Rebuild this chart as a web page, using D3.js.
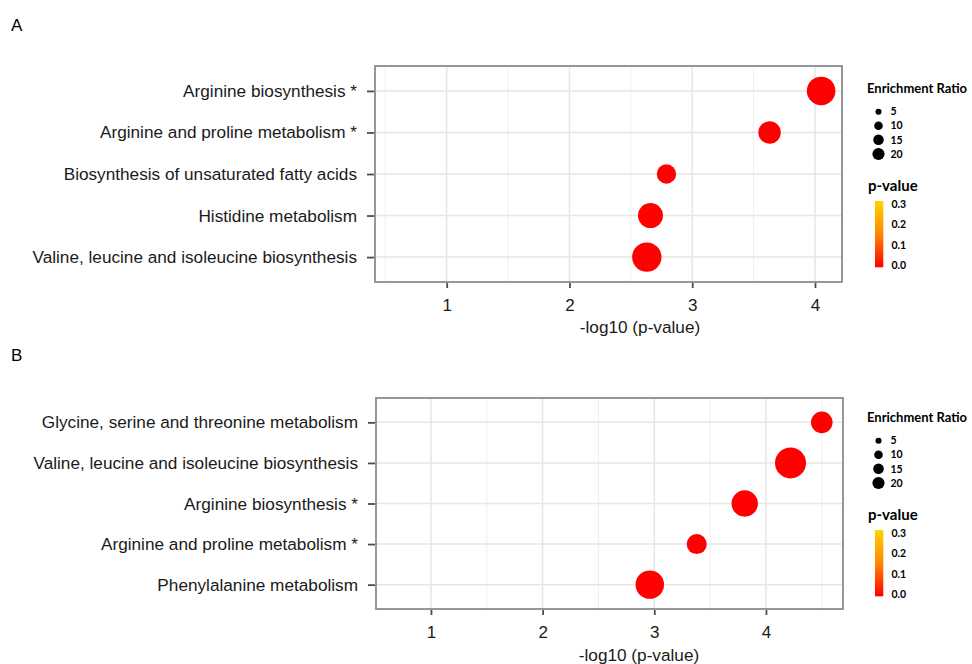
<!DOCTYPE html>
<html>
<head>
<meta charset="utf-8">
<script src="https://cdn.jsdelivr.net/npm/d3@7"></script>
<style>
  body { margin: 0; background: #fff; }
  text { font-family: "Liberation Sans", Arial, sans-serif; }
  .leg text { font-family: Lato, "Open Sans", sans-serif; font-weight: 700; }
</style>
</head>
<body>
<div id="container"></div>
<script>
/* DATA */
const pathwaysA = [
  "Arginine biosynthesis *",
  "Arginine and proline metabolism *",
  "Biosynthesis of unsaturated fatty acids",
  "Histidine metabolism",
  "Valine, leucine and isoleucine biosynthesis"
]
const logPA = [4.05, 3.63, 2.79, 2.66, 2.63]
const ratioA = [18.9, 11.6, 8.7, 14.5, 20]

const pathwaysB = [
  "Glycine, serine and threonine metabolism",
  "Valine, leucine and isoleucine biosynthesis",
  "Arginine biosynthesis *",
  "Arginine and proline metabolism *",
  "Phenylalanine metabolism"
]
const logPB = [4.50, 4.22, 3.81, 3.38, 2.96]
const ratioB = [10.8, 22.2, 16.1, 9.3, 18.7]

const xTicks = [1, 2, 3, 4]
const sizeLegend = [5, 10, 15, 20]
const pLegend = [0.0, 0.1, 0.2, 0.3]

/* CONSTANTS */
const width = 972, height = 664

const svg = d3.select("#container")
  .append("svg")
  .attr("width", width)
  .attr("height", height)

// colour by p-value, same for both panels
const colorScale = d3.scaleLinear()
  .domain([0, 0.15, 0.3])
  .range(["#ff0000", "#ff8800", "#ffd400"])

const sizeScale = d3.scaleSqrt().domain([0, 20]).range([0, 14.7])
const legSize = d3.scaleSqrt().domain([0, 20]).range([0, 6.1])

function drawPanel(cfg) {
  const g = svg.append("g")

  // panel letter
  g.append("text")
    .attr("x", 11).attr("y", cfg.letterY)
    .attr("font-size", 17)
    .text(cfg.letter)

  const xScale = d3.scaleLinear()
    .domain(cfg.xDomain)
    .range([cfg.left, cfg.right])

  const yScale = d3.scalePoint()
    .domain(cfg.pathways)
    .range([cfg.top, cfg.bottom])
    .padding(0.6)

  // minor grid
  const minor = d3.range(0.5, cfg.xDomain[1], 1).filter(v => v > cfg.xDomain[0])
  g.selectAll(".minor")
    .data(minor)
    .join("line")
    .attr("x1", d => xScale(d)).attr("x2", d => xScale(d))
    .attr("y1", cfg.top).attr("y2", cfg.bottom)
    .attr("stroke", "#efefef").attr("stroke-width", 1)

  // major grid
  g.selectAll(".vmajor")
    .data(xTicks)
    .join("line")
    .attr("x1", d => xScale(d)).attr("x2", d => xScale(d))
    .attr("y1", cfg.top).attr("y2", cfg.bottom)
    .attr("stroke", "#e6e6e6").attr("stroke-width", 1.5)

  g.selectAll(".hmajor")
    .data(cfg.pathways)
    .join("line")
    .attr("x1", cfg.left).attr("x2", cfg.right)
    .attr("y1", d => yScale(d)).attr("y2", d => yScale(d))
    .attr("stroke", "#e6e6e6").attr("stroke-width", 1.5)

  // panel border
  g.append("rect")
    .attr("x", cfg.left).attr("y", cfg.top)
    .attr("width", cfg.right - cfg.left)
    .attr("height", cfg.bottom - cfg.top)
    .attr("fill", "none")
    .attr("stroke", "#8c8c8c")
    .attr("stroke-width", 1.8)

  // axes
  const xAxis = d3.axisBottom(xScale).tickValues(xTicks).tickFormat(d3.format("d"))
    .tickSize(5).tickPadding(11)
  const xg = g.append("g")
    .attr("transform", `translate(0,${cfg.bottom + 1})`)
    .call(xAxis)
  xg.select(".domain").remove()
  xg.selectAll("line").attr("stroke", "#4d4d4d").attr("stroke-width", 1.8)
  xg.selectAll("text").attr("font-size", 17).attr("fill", "#1a1a1a")
    .attr("font-family", "Liberation Sans, Arial, sans-serif")

  const yAxis = d3.axisLeft(yScale).tickSize(7).tickPadding(10)
  const yg = g.append("g")
    .attr("transform", `translate(${cfg.left - 1},0)`)
    .call(yAxis)
  yg.select(".domain").remove()
  yg.selectAll("line").attr("stroke", "#4d4d4d").attr("stroke-width", 1.8)
  yg.selectAll("text").attr("font-size", 17.2).attr("fill", "#1a1a1a")
    .attr("font-family", "Liberation Sans, Arial, sans-serif")

  // axis title
  g.append("text")
    .attr("x", cfg.titleX)
    .attr("y", cfg.bottom + cfg.titleDy)
    .attr("text-anchor", "middle")
    .attr("font-size", 17.2)
    .attr("fill", "#1a1a1a")
    .text("-log10 (p-value)")

  // dots
  const data = cfg.pathways.map((p, i) => ({ pathway: p, logp: cfg.logP[i], ratio: cfg.ratio[i] }))
  g.selectAll("circle.dot")
    .data(data)
    .join("circle")
    .attr("class", "dot")
    .attr("cx", d => xScale(d.logp))
    .attr("cy", d => yScale(d.pathway))
    .attr("r", d => sizeScale(d.ratio))
    .attr("fill", d => colorScale(Math.pow(10, -d.logp)))

  // legend
  const leg = g.append("g").attr("class", "leg")
  leg.append("text")
    .attr("x", 867).attr("y", cfg.legY + 8)
    .attr("font-size", 13)
    .text("Enrichment Ratio")

  const sizeY = [26.7, 40.7, 54.8, 69]
  leg.selectAll(".sz")
    .data(sizeLegend)
    .join("circle")
    .attr("cx", 878.5)
    .attr("cy", (d, i) => cfg.legY + sizeY[i])
    .attr("r", d => legSize(d))
    .attr("fill", "#000")
  leg.selectAll(".szt")
    .data(sizeLegend)
    .join("text")
    .attr("x", 890.5)
    .attr("y", (d, i) => cfg.legY + sizeY[i] + 3.7)
    .attr("font-size", 10.5)
    .text(d => d)

  leg.append("text")
    .attr("x", 868).attr("y", cfg.legY + 106)
    .attr("font-size", 15)
    .text("p-value")

  const barTop = cfg.legY + 116, barBot = cfg.legY + 182.3
  const pScale = d3.scaleLinear().domain([0, 0.3]).range([cfg.legY + 180.7, cfg.legY + 119.3])
  const gradId = "grad" + cfg.letter
  const grad = svg.append("defs").append("linearGradient")
    .attr("id", gradId)
    .attr("x1", 0).attr("x2", 0).attr("y1", 1).attr("y2", 0)
  d3.range(0, 0.301, 0.05).forEach(v => {
    grad.append("stop").attr("offset", v / 0.3).attr("stop-color", colorScale(v))
  })
  leg.append("rect")
    .attr("x", 875).attr("y", barTop)
    .attr("width", 8.3).attr("height", barBot - barTop)
    .attr("fill", `url(#${gradId})`)
  leg.selectAll(".pt")
    .data(pLegend)
    .join("text")
    .attr("x", 891.5)
    .attr("y", d => pScale(d) + 3.7)
    .attr("font-size", 10.5)
    .text(d => d.toFixed(1))
}

drawPanel({
  letter: "A", letterY: 31,
  pathways: pathwaysA, logP: logPA, ratio: ratioA,
  xDomain: [0.416, 4.22],
  left: 375, right: 842, top: 66, bottom: 282,
  titleX: 640, titleDy: 51,
  legY: 85
})

drawPanel({
  letter: "B", letterY: 361,
  pathways: pathwaysB, logP: logPB, ratio: ratioB,
  xDomain: [0.508, 4.69],
  left: 376, right: 843, top: 398, bottom: 609,
  titleX: 639, titleDy: 52,
  legY: 414
})
</script>
</body>
</html>
